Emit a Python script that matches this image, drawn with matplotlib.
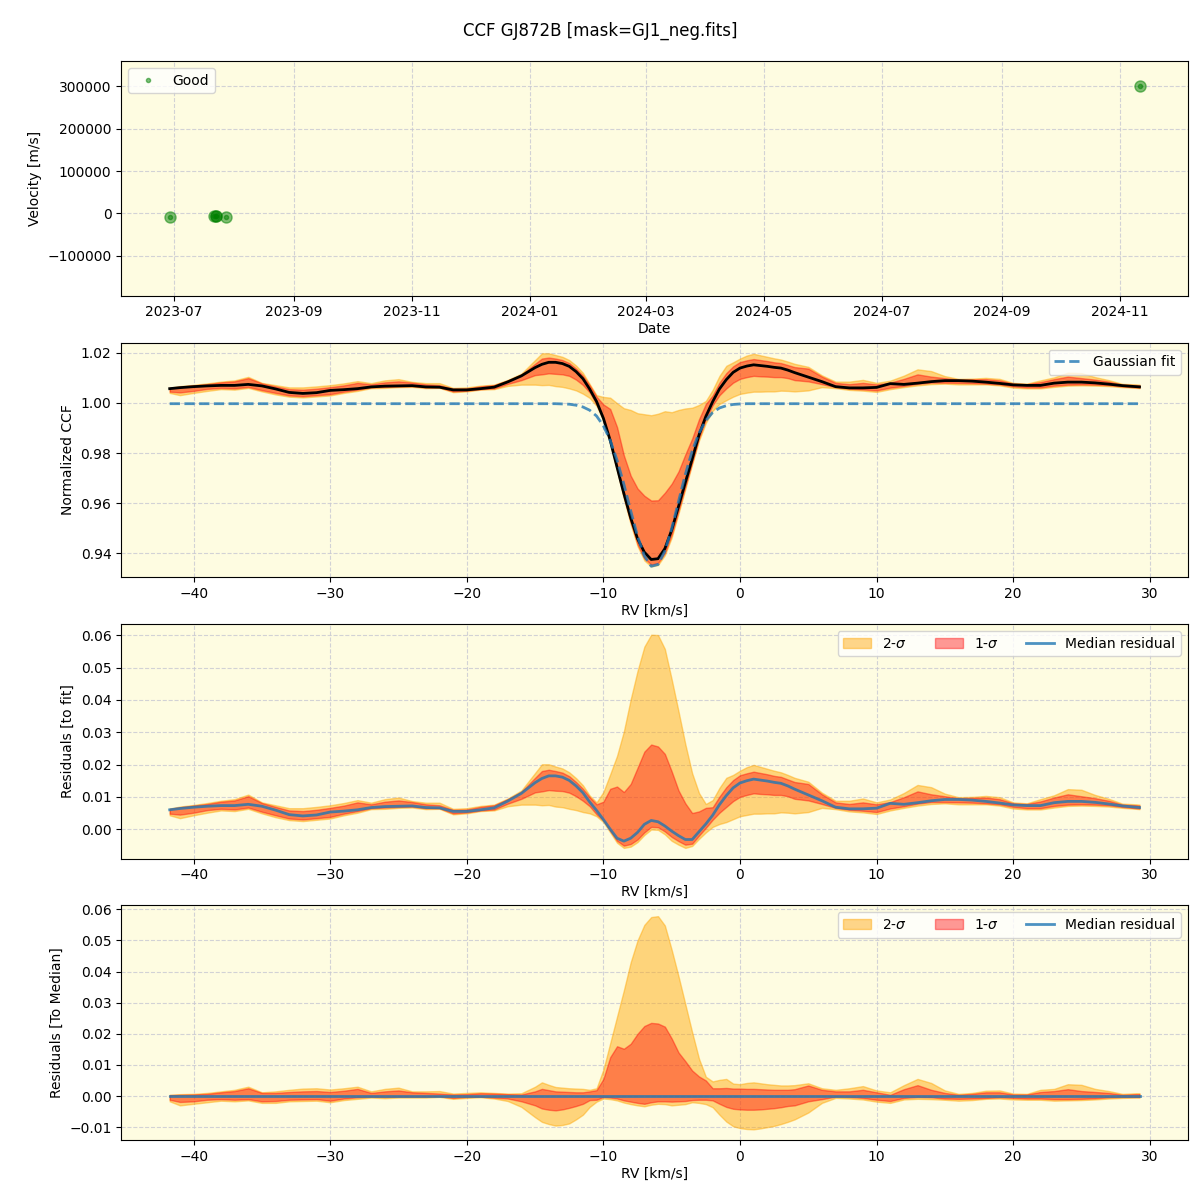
import matplotlib
matplotlib.use("Agg")
import matplotlib.pyplot as plt
import matplotlib.dates as mdates
import numpy as np
import pandas as pd

# --- top panel: velocity per epoch ---
dates = pd.to_datetime(["2023-06-29", "2023-07-22", "2023-07-23", "2023-07-23",
                        "2023-07-28", "2024-11-11"])
velocity = [-9000, -6000, -7000, -6500, -9000, 300000]

# --- CCF profile grid ---
rv = [-41.75, -41, -40, -39, -38, -37, -36, -35, -34, -33, -32, -31, -30, -29,
      -28, -27, -26, -25, -24, -23, -22, -21, -20, -19, -18, -17, -16, -15,
      -14.5, -14, -13.5, -13, -12.5, -12, -11.5, -11, -10.5, -10, -9.5, -9,
      -8.5, -8, -7.5, -7, -6.5, -6, -5.5, -5, -4.5, -4, -3.5, -3, -2.5, -2,
      -1.5, -1, -0.5, 0, 0.5, 1, 1.5, 2, 2.5, 3, 3.5, 4, 5, 6, 7, 8, 9, 10,
      11, 12, 13, 14, 15, 16, 17, 18, 19, 20, 21, 22, 23, 24, 25, 26, 27, 28,
      29, 29.25]

gauss_fit = [0.9997] * 28 + [
    0.9997, 0.9997, 0.9997, 0.9996, 0.9995, 0.9991, 0.9984, 0.9971, 0.9948,
    0.9909, 0.9851, 0.9772, 0.9676, 0.9570, 0.9469, 0.9390, 0.9349, 0.9356,
    0.9409, 0.9499, 0.9607, 0.9715, 0.9808, 0.9880, 0.9930, 0.9962, 0.9980,
    0.9989, 0.9994, 0.9996, 0.9997, 0.9997, 0.9997, 0.9997, 0.9997, 0.9997,
    0.9997, 0.9997] + [0.9997] * 26

# median CCF minus gaussian fit
resid_fit = [
    0.0060, 0.0064, 0.0068, 0.0071, 0.0073, 0.0073, 0.0077, 0.0071, 0.0059,
    0.0045, 0.0041, 0.0044, 0.0053, 0.0056, 0.0060, 0.0067, 0.0070, 0.0071,
    0.0072, 0.0067, 0.0066, 0.0055, 0.0055, 0.0060, 0.0066, 0.0087, 0.0111,
    0.0144,
    0.0157, 0.0165, 0.0165, 0.0161, 0.0151, 0.0134, 0.0113, 0.0084, 0.0058,
    0.0030, 0.0000, -0.0028, -0.0037, -0.0028, -0.0010, 0.0015, 0.0027,
    0.0023, 0.0010, -0.0006, -0.0020, -0.0032, -0.0032, -0.0008, 0.0016,
    0.0043, 0.0076, 0.0104, 0.0128, 0.0143, 0.0150, 0.0155, 0.0152, 0.0149,
    0.0145, 0.0142, 0.0134, 0.0124,
    0.0106, 0.0088, 0.0068, 0.0063, 0.0063, 0.0065, 0.0080, 0.0077, 0.0082,
    0.0088, 0.0092, 0.0092, 0.0090, 0.0086, 0.0081, 0.0075, 0.0073, 0.0073,
    0.0082, 0.0086, 0.0086, 0.0083, 0.0078, 0.0072, 0.0068, 0.0067]

# percentile bands, relative to the median CCF
hi2 = [
    0.0004, 0.0006, 0.0007, 0.0010, 0.0015, 0.0020, 0.0030, 0.0012, 0.0015,
    0.0020, 0.0024, 0.0025, 0.0021, 0.0025, 0.0030, 0.0015, 0.0023, 0.0027,
    0.0015, 0.0015, 0.0016, 0.0008, 0.0010, 0.0012, 0.0010, 0.0008, 0.0009,
    0.0030,
    0.0044, 0.0036, 0.0029, 0.0027, 0.0025, 0.0024, 0.0023, 0.0020, 0.0025,
    0.0085, 0.0170, 0.0255, 0.0340, 0.0430, 0.0500, 0.0550, 0.0575, 0.0578,
    0.0548, 0.0470, 0.0385, 0.0295, 0.0205, 0.0120, 0.0062, 0.0047, 0.0052,
    0.0055, 0.0040, 0.0038, 0.0042, 0.0044, 0.0041, 0.0038, 0.0036, 0.0034,
    0.0034, 0.0035,
    0.0041, 0.0025, 0.0020, 0.0025, 0.0032, 0.0018, 0.0012, 0.0035, 0.0055,
    0.0042, 0.0018, 0.0007, 0.0010, 0.0017, 0.0018, 0.0008, 0.0007, 0.0020,
    0.0023, 0.0038, 0.0036, 0.0023, 0.0016, 0.0007, 0.0009, 0.0009]
hi1 = [
    0.0003, 0.0004, 0.0005, 0.0007, 0.0012, 0.0016, 0.0025, 0.0010, 0.0010,
    0.0013, 0.0015, 0.0016, 0.0013, 0.0017, 0.0023, 0.0010, 0.0015, 0.0018,
    0.0012, 0.0010, 0.0008, 0.0005, 0.0006, 0.0009, 0.0008, 0.0006, 0.0005,
    0.0015,
    0.0023, 0.0019, 0.0015, 0.0014, 0.0013, 0.0012, 0.0012, 0.0015, 0.0019,
    0.0055, 0.0125, 0.0160, 0.0152, 0.0168, 0.0200, 0.0225, 0.0235, 0.0233,
    0.0223, 0.0185, 0.0140, 0.0112, 0.0082, 0.0063, 0.0050, 0.0025, 0.0025,
    0.0026, 0.0024, 0.0024, 0.0023, 0.0023, 0.0022, 0.0021, 0.0020, 0.0020,
    0.0020, 0.0022,
    0.0034, 0.0020, 0.0015, 0.0015, 0.0020, 0.0012, 0.0004, 0.0022, 0.0035,
    0.0020, 0.0010, 0.0004, 0.0007, 0.0012, 0.0012, 0.0005, 0.0005, 0.0013,
    0.0016, 0.0022, 0.0016, 0.0013, 0.0010, 0.0004, 0.0006, 0.0006]
lo1 = [
    -0.0012, -0.0019, -0.0017, -0.0012, -0.0010, -0.0012, -0.0010, -0.0017,
    -0.0016, -0.0012, -0.0011, -0.0010, -0.0015, -0.0008, -0.0004, -0.0002,
    -0.0003, -0.0002, -0.0002, -0.0002, -0.0001, -0.0006, -0.0003, -0.0002,
    -0.0005, -0.0008, -0.0017, -0.0030,
    -0.0040, -0.0044, -0.0046, -0.0043, -0.0038, -0.0032, -0.0025, -0.0013,
    -0.0012, -0.0003, -0.0005, -0.0008, -0.0014, -0.0018, -0.0022, -0.0025,
    -0.0020, -0.0017, -0.0017, -0.0018, -0.0017, -0.0016, -0.0013, -0.0012,
    -0.0012, -0.0014, -0.0025, -0.0035, -0.0041, -0.0043, -0.0044, -0.0044,
    -0.0043, -0.0041, -0.0039, -0.0036, -0.0032, -0.0030,
    -0.0017, -0.0010, -0.0002, -0.0003, -0.0006, -0.0012, -0.0016, -0.0006,
    -0.0003, -0.0004, -0.0008, -0.0009, -0.0008, -0.0006, -0.0004, -0.0006,
    -0.0008, -0.0008, -0.0010, -0.0010, -0.0009, -0.0007, -0.0004, -0.0003,
    -0.0003, -0.0003]
lo2 = [
    -0.0017, -0.0030, -0.0025, -0.0020, -0.0015, -0.0017, -0.0014, -0.0022,
    -0.0022, -0.0017, -0.0016, -0.0015, -0.0020, -0.0013, -0.0009, -0.0005,
    -0.0007, -0.0005, -0.0005, -0.0005, -0.0003, -0.0009, -0.0006, -0.0004,
    -0.0008, -0.0016, -0.0035, -0.0068,
    -0.0083, -0.0090, -0.0095, -0.0093, -0.0088, -0.0075, -0.0060, -0.0035,
    -0.0018, -0.0008, -0.0010, -0.0014, -0.0021, -0.0026, -0.0030, -0.0033,
    -0.0028, -0.0025, -0.0026, -0.0030, -0.0028, -0.0026, -0.0020, -0.0022,
    -0.0026, -0.0036, -0.0060, -0.0082, -0.0097, -0.0103, -0.0106, -0.0107,
    -0.0104, -0.0100, -0.0096, -0.0090, -0.0083, -0.0075,
    -0.0053, -0.0022, -0.0006, -0.0008, -0.0011, -0.0018, -0.0022, -0.0011,
    -0.0009, -0.0010, -0.0012, -0.0015, -0.0013, -0.0009, -0.0008, -0.0011,
    -0.0012, -0.0012, -0.0015, -0.0014, -0.0013, -0.0011, -0.0008, -0.0006,
    -0.0005, -0.0005]

rv = np.array(rv)
fit = np.array(gauss_fit)
median = fit + np.array(resid_fit)
bands = {k: np.array(v) for k, v in
         dict(hi2=hi2, hi1=hi1, lo1=lo1, lo2=lo2).items()}

BG = "#fefce1"
C2, A2 = "orange", 0.45
C1, A1 = "red", 0.4
BLUE = "tab:blue"

fig, axes = plt.subplots(4, 1, figsize=(12, 12), dpi=100)
fig.subplots_adjust(left=0.101, right=0.99, top=0.949, bottom=0.05, hspace=0.2)
fig.suptitle("CCF GJ872B [mask=GJ1_neg.fits]", y=0.982)

for ax in axes:
    ax.set_facecolor(BG)
    ax.grid(True, linestyle="--", color="#c8c8d2", alpha=0.8)
    ax.set_axisbelow(True)

# velocity vs date
ax = axes[0]
ax.plot(dates, velocity, "o", color="green", alpha=0.5, ms=8)
ax.plot(dates, velocity, ".", color="green", alpha=0.5, label="Good")
ax.set_ylim(-194000, 359000)
ax.xaxis.set_major_locator(mdates.MonthLocator(bymonth=(1, 3, 5, 7, 9, 11)))
ax.xaxis.set_major_formatter(mdates.DateFormatter("%Y-%m"))
ax.set_xlabel("Date", labelpad=2)
ax.set_ylabel("Velocity [m/s]")
ax.legend(loc="upper left")

# normalized CCF
ax = axes[1]
ax.fill_between(rv, median + bands["lo2"], median + bands["hi2"], color=C2, alpha=A2)
ax.fill_between(rv, median + bands["lo1"], median + bands["hi1"], color=C1, alpha=A1)
ax.plot(rv, median, color="black", lw=2)
ax.plot(rv, fit, "--", color=BLUE, alpha=0.8, lw=2, label="Gaussian fit")
ax.set_xlabel("RV [km/s]", labelpad=2)
ax.set_ylabel("Normalized CCF")
ax.legend(loc="upper right")

# residuals to fit / to median
for ax, ref, ylab in [(axes[2], fit, "Residuals [to fit]"),
                      (axes[3], median, "Residuals [To Median]")]:
    base = median - ref
    ax.fill_between(rv, base + bands["lo2"], base + bands["hi2"], color=C2, alpha=A2,
                    label="2-$\\sigma$")
    ax.fill_between(rv, base + bands["lo1"], base + bands["hi1"], color=C1, alpha=A1,
                    label="1-$\\sigma$")
    ax.plot(rv, base, color=BLUE, alpha=0.8, lw=2, label="Median residual")
    ax.set_xlabel("RV [km/s]", labelpad=2)
    ax.set_ylabel(ylab)
    ax.legend(loc="upper right", ncol=3)

fig.savefig("out.png", dpi=100)
